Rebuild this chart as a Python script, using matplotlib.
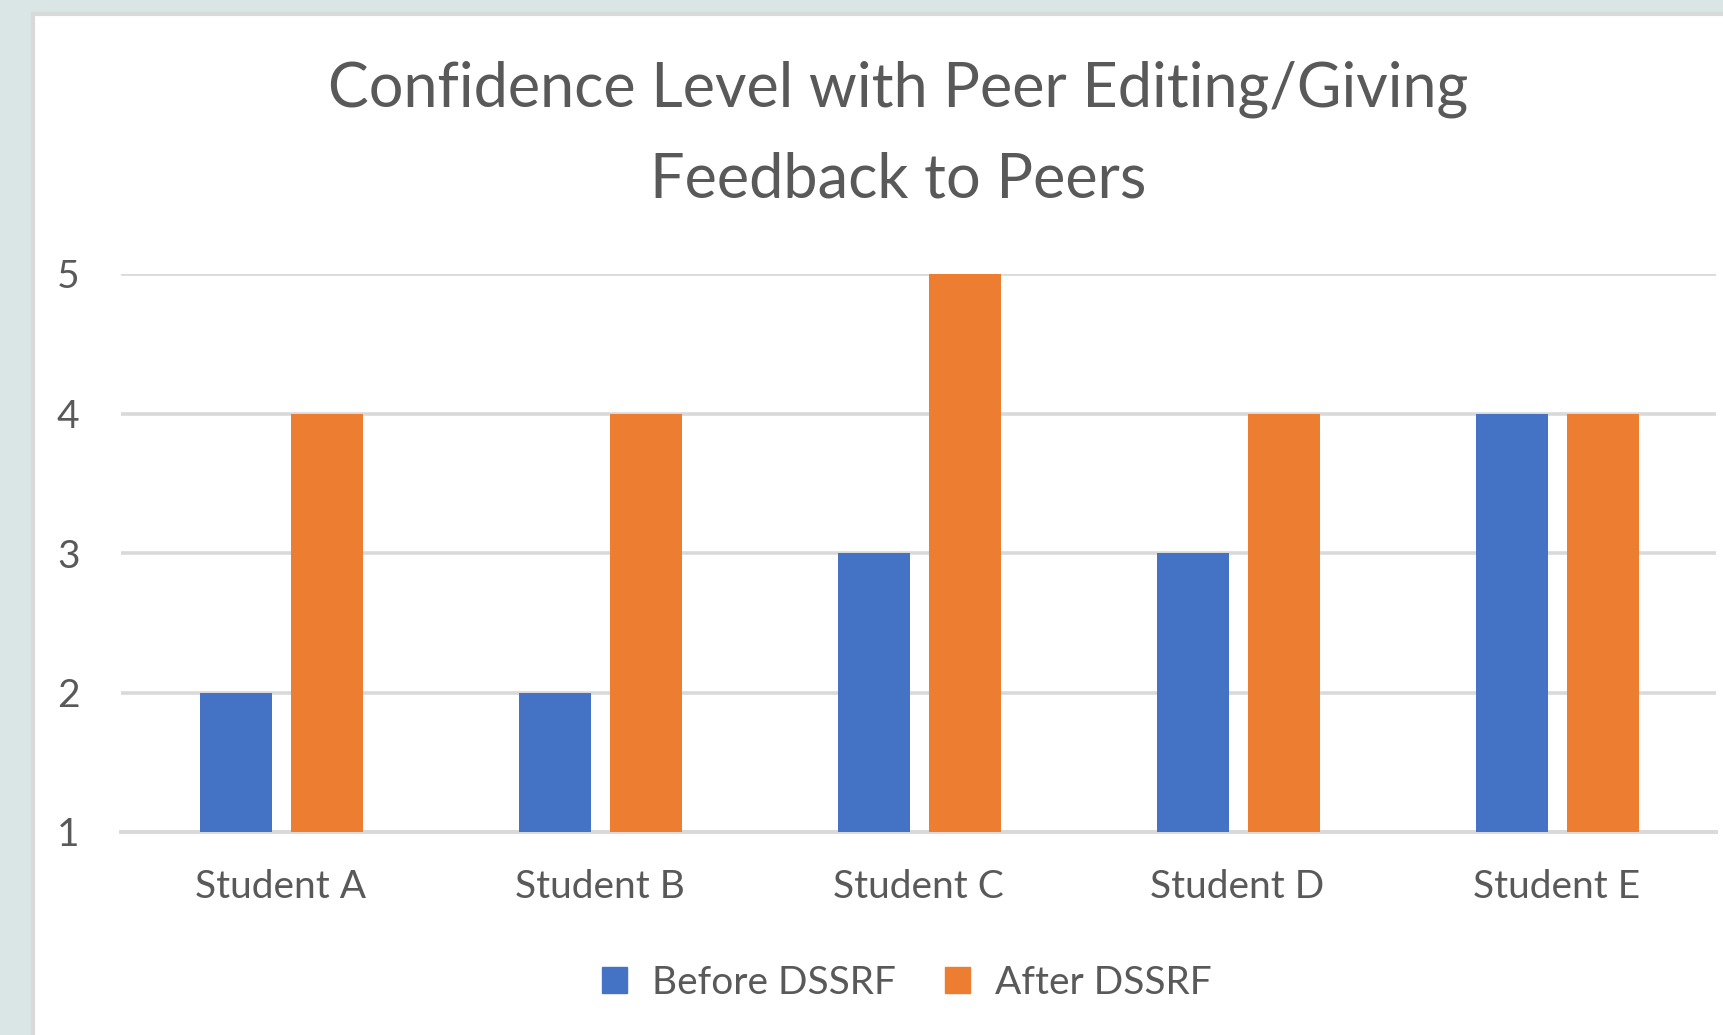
import matplotlib.pyplot as plt
import matplotlib.patches as mpatches
import numpy as np

students = ['Student A', 'Student B', 'Student C', 'Student D', 'Student E']
before_dssrf = [2, 2, 3, 3, 4]
after_dssrf = [4, 4, 5, 4, 4]
y_ticks = [1, 2, 3, 4, 5]

BLUE = '#4472C4'
ORANGE = '#ED7D31'
GRID = '#D9D9D9'
TEXT = '#595959'
BORDER = '#DAE5E6'

plt.rcParams['font.family'] = ['Lato', 'DejaVu Sans']

W, H = 1723, 1035
fig = plt.figure(figsize=(W / 100, H / 100), dpi=100)
fig.patch.set_facecolor(BORDER)

# white chart area with thin grey edge (left/top)
fig.patches.append(mpatches.Rectangle((33 / W, -0.01), 1, 1 - 14 / H + 0.01, transform=fig.transFigure,
                                      facecolor='white', edgecolor=GRID, linewidth=3, zorder=-5))

ax = fig.add_axes([121 / W, 1 - 832 / H, (1716 - 121) / W, (832 - 274) / H])
ax.set_zorder(1)
ax.set_facecolor('white')

x = np.arange(len(students))
width = 0.226
ax.bar(x - 0.14, np.array(before_dssrf) - 1, width, bottom=1, color=BLUE, zorder=3, label='Before DSSRF')
ax.bar(x + 0.145, np.array(after_dssrf) - 1, width, bottom=1, color=ORANGE, zorder=3, label='After DSSRF')

ax.set_xlim(-0.5, len(students) - 0.5)
ax.set_ylim(1, 5)
ax.set_yticks(y_ticks)
ax.set_xticks(x)
ax.set_xticklabels(students)
ax.yaxis.grid(True, color=GRID, linewidth=2.6, zorder=1)
ax.set_axisbelow(True)
for s in ax.spines.values():
    s.set_visible(False)
ax.tick_params(axis='both', length=0, labelsize=28, colors=TEXT)
ax.tick_params(axis='y', pad=30)
ax.tick_params(axis='x', pad=27)
ax.axhline(1, color=GRID, linewidth=2.8, zorder=2, clip_on=False)

fig.text(898 / W, 1 - 197 / H, 'Confidence Level with Peer Editing/Giving\nFeedback to Peers',
         ha='center', va='baseline', fontsize=44, color=TEXT, linespacing=1.72, multialignment='center')

handles = [mpatches.Patch(color=BLUE), mpatches.Patch(color=ORANGE)]
fig.legend(handles, ['Before DSSRF', 'After DSSRF'], loc='center', bbox_to_anchor=(907 / W, 1 - 983 / H),
           ncol=2, frameon=False, fontsize=28, labelcolor=TEXT, handlelength=0.64, handleheight=0.64,
           handletextpad=0.64, columnspacing=1.26)

fig.savefig('out.png', dpi=100, facecolor=fig.get_facecolor())
